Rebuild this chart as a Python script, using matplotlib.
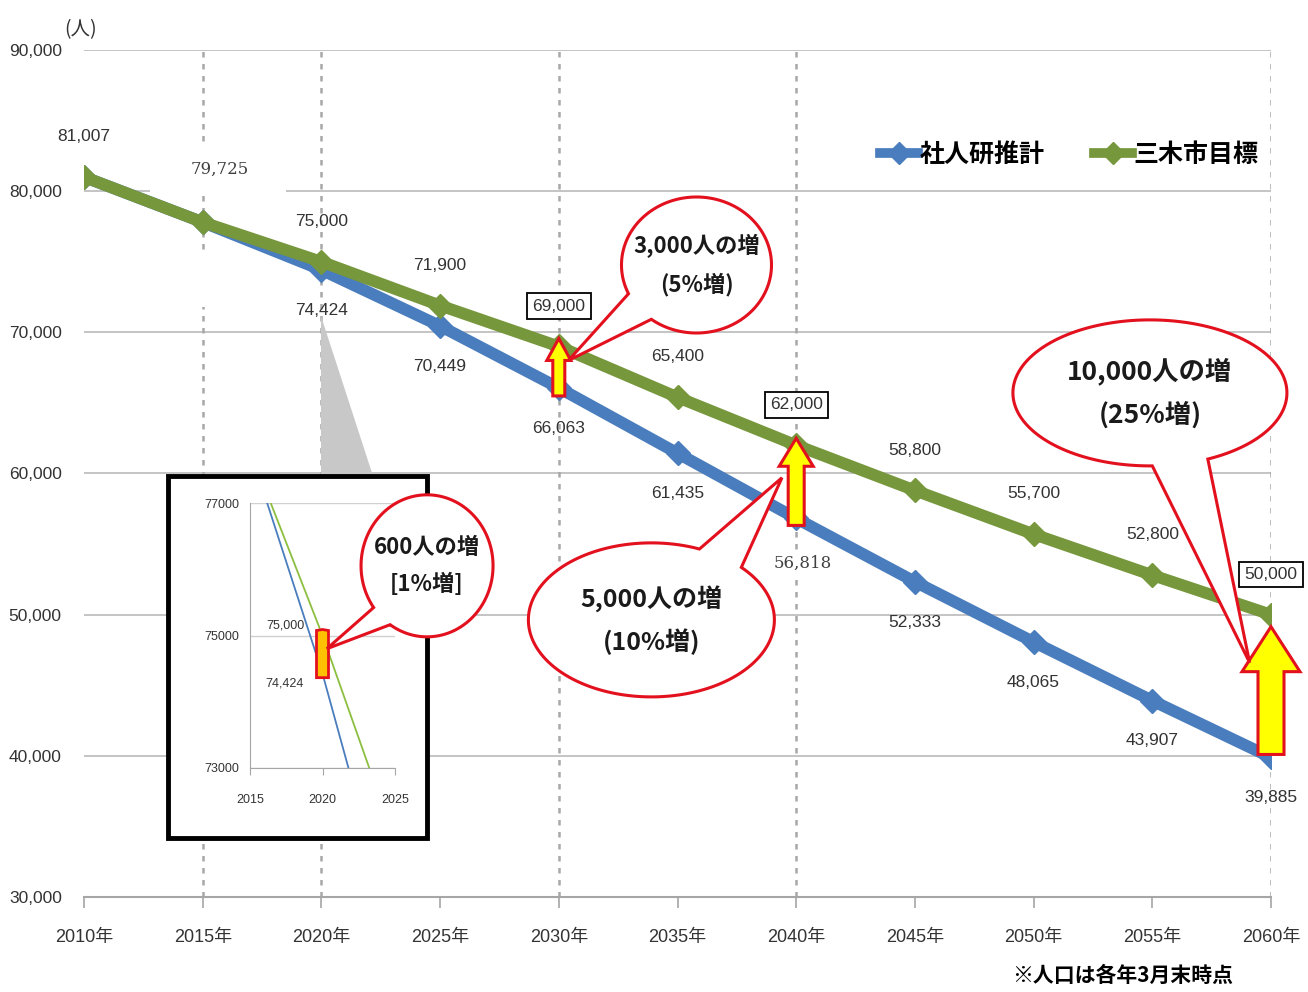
import matplotlib
matplotlib.use('Agg')
import matplotlib.pyplot as plt
from matplotlib import font_manager
from matplotlib.lines import Line2D
from matplotlib.patches import Polygon, Rectangle
from matplotlib.transforms import IdentityTransform
import numpy as np

# data
years = [2010, 2015, 2020, 2025, 2030, 2035, 2040, 2045, 2050, 2055, 2060]
ipss = [81007, 77800, 74424, 70449, 66063, 61435, 56818, 52333, 48065, 43907, 39885]
miki = [81007, 77800, 75000, 71900, 69000, 65400, 62000, 58800, 55700, 52800, 50000]
ipss_labels = ['', '', '74,424', '70,449', '66,063', '61,435', '56,818', '52,333', '48,065', '43,907', '39,885']
miki_labels = ['81,007', '79,725', '75,000', '71,900', '69,000', '65,400', '62,000', '58,800', '55,700', '52,800', '50,000']
boxed_years = [2030, 2040, 2060]
pasted_labels = {2015: 'miki', 2040: 'ipss'}      # labels pasted on later in the source
dashed_years = [2015, 2020, 2030, 2040, 2060]
y_ticks = [30000, 40000, 50000, 60000, 70000, 80000, 90000]
x_tick_labels = [str(y) + '年' for y in years]
series_names = ['社人研推計', '三木市目標']

inset_years = [2015, 2020, 2025]
inset_ticks = [73000, 75000, 77000]

callouts = [
    # text, centre (year, people), rx, ry (px), tail base angles, tail tip, fontsize, target axes
    ('3,000人の増\n(5%増)', (2035.8, 74770), 75, 68, 205, 233, (2030.4, 68000), 16, 'main'),
    ('5,000人の増\n(10%増)', (2033.9, 49630), 123, 77, 43, 67, (2039.4, 59700), 18, 'main'),
    ('10,000人の増\n(25%増)', (2054.9, 65710), 137, 73, 271, 295, (2059.1, 46600), 19, 'main'),
    ('600人の増\n[1%増]', (2024.45, 53460), 66, 71, 216, 236, (2020.3, 74800), 16, 'inset'),
]
# arrows: year, half shaft width, half head width, head length, overshoot bottom / top (px)
arrows = [(2030, 6, 12, 22, 8, 8), (2040, 8, 17, 28, 7, 7), (2060, 13, 29, 45, -3, -12)]

W, H = 1308, 992
BLUE = '#4a7dbd'
GREEN = '#77973c'
RED = '#e3101e'

names = {f.name for f in font_manager.fontManager.ttflist}
num_font = 'Liberation Sans Narrow' if 'Liberation Sans Narrow' in names else 'Liberation Sans'
fam = [num_font, 'Noto Sans CJK JP', 'DejaVu Sans']
cjk = ['Noto Sans CJK JP', 'DejaVu Sans']
plt.rcParams['font.family'] = fam

fig = plt.figure(figsize=(W / 100, H / 100), dpi=100)
ax = fig.add_axes([84 / W, 1 - 897 / H, 1187 / W, 847 / H])
ax.set_xlim(2010, 2060)
ax.set_ylim(30000, 90000)

for s in ['top', 'right', 'left']:
    ax.spines[s].set_visible(False)
ax.spines['bottom'].set_color('#a6a6a6')
ax.spines['bottom'].set_linewidth(1.5)
ax.set_yticks(y_ticks)
ax.set_yticklabels([f'{v:,}' for v in y_ticks])
ax.set_xticks(years)
ax.set_xticklabels(x_tick_labels)
ax.tick_params(axis='y', length=0, pad=16, labelsize=12.5, labelcolor='#333333')
ax.tick_params(axis='x', length=8, width=1.2, color='#a6a6a6', pad=15, labelsize=13, labelcolor='#333333')
ax.yaxis.grid(True, color='#c4c4c4', lw=1.4, zorder=0)
ax.set_axisbelow(True)
for yr in dashed_years:
    ax.axvline(yr, color='#a8a8a8', lw=1.8, ls=(0, (2.2, 2.6)), zorder=1)

# white patches covering the original labels at 2015
ax.add_patch(Rectangle((2012.8, 79730), 5.7, 3540, fc='white', ec='none', zorder=2))
ax.add_patch(Rectangle((2013.8, 71800), 4.7, 3820, fc='white', ec='none', zorder=2))

ax.plot(years, ipss, color=BLUE, lw=8.5, marker='D', ms=12, zorder=3, solid_capstyle='round')
ax.plot(years, miki, color=GREEN, lw=8.5, marker='D', ms=12, zorder=4, solid_capstyle='round')

for yr, v, lab in zip(years, miki, miki_labels):
    if pasted_labels.get(yr) == 'miki':
        ax.annotate(lab, (yr, v), xytext=(12, 38), textcoords='offset points', ha='center', va='center',
                    fontsize=12, family='DejaVu Serif', color='#404040', zorder=6)
        continue
    box = dict(boxstyle='square,pad=0.3', fc='white', ec='black', lw=1.3) if yr in boxed_years else None
    ax.annotate(lab, (yr, v), xytext=(0, 29), textcoords='offset points', ha='center', va='center',
                fontsize=12.5, color='#333333', bbox=box, zorder=6)
for yr, v, lab in zip(years, ipss, ipss_labels):
    if not lab:
        continue
    if pasted_labels.get(yr) == 'ipss':
        ax.annotate(lab, (yr, v), xytext=(5, -32), textcoords='offset points', ha='center', va='center',
                    fontsize=12, family='DejaVu Serif', color='#404040', zorder=6,
                    bbox=dict(boxstyle='square,pad=0.2', fc='white', ec='none'))
        continue
    ax.annotate(lab, (yr, v), xytext=(0, -29), textcoords='offset points', ha='center', va='center',
                fontsize=12.5, color='#333333', zorder=6)

handles = [Line2D([], [], color=BLUE, lw=7, marker='D', ms=11),
           Line2D([], [], color=GREEN, lw=7, marker='D', ms=11)]
ax.legend(handles, series_names, loc='center right', bbox_to_anchor=(1.008, 0.876), ncol=2,
          frameon=False, handlelength=1.5, handletextpad=0.05, columnspacing=2.0,
          prop=dict(family=cjk, size=18, weight='bold'))

fig.text(64 / W, 1 - 30 / H, '(人)', fontsize=14, color='#333333', family=cjk, va='center')
fig.text(1233 / W, 1 - 975 / H, '※人口は各年3月末時点', fontsize=15, weight='bold', family=cjk,
         ha='right', va='center')

# yellow block arrows between the two series
def block_arrow(x0, y0, y1, w, hw, hl, lw, color, zorder):
    b = x0[0]
    yb, yt = y0, y1
    pts = [(b - w, yb), (b + w, yb), (b + w, yt - hl), (b + hw, yt - hl), (b, yt),
           (b - hw, yt - hl), (b - w, yt - hl)]
    fig.add_artist(Polygon(pts, closed=True, fc=color, ec=RED, lw=lw, transform=IdentityTransform(),
                           zorder=zorder, joinstyle='miter'))

for yr, w, hw, hl, over_b, over_t in arrows:
    i = years.index(yr)
    p0 = ax.transData.transform((yr, ipss[i]))
    p1 = ax.transData.transform((yr, miki[i]))
    block_arrow(p0, p0[1] - over_b, p1[1] + over_t, w, hw, hl, 2.2, '#ffff00', 2)

# inset: zoom around 2020
fig.add_artist(Rectangle((168 / W, 1 - 838 / H), 259 / W, 362 / H, fc='white', ec='black', lw=3.5,
                         transform=fig.transFigure, zorder=4))
apex = ax.transData.transform((2020, ipss[2]))
fig.add_artist(Polygon([(apex[0], apex[1] - 46), (apex[0], H - 476), (apex[0] + 52, H - 476)], closed=True,
                       fc='#c8c8c8', ec='none', transform=IdentityTransform(), zorder=3))

axi = fig.add_axes([250 / W, 1 - 768 / H, 145 / W, 265 / H], zorder=5)
axi.patch.set_alpha(0)
axi.set_xlim(2015, 2025)
axi.set_ylim(73000, 77000)
axi.plot(years, ipss, color=BLUE, lw=1.3)
axi.plot(years, miki, color='#8cbf3f', lw=1.3)
for s in ['top', 'right']:
    axi.spines[s].set_visible(False)
for s in ['left', 'bottom']:
    axi.spines[s].set_color('#a6a6a6')
axi.set_xticks(inset_years)
axi.set_yticks(inset_ticks)
axi.set_yticklabels([str(v) for v in inset_ticks])
axi.tick_params(axis='y', length=0, pad=8, labelsize=9, labelcolor='#333333')
axi.tick_params(axis='x', length=5, color='#a6a6a6', pad=14, labelsize=9, labelcolor='#333333')
axi.yaxis.grid(True, color='#d0d0d0', lw=1)
axi.annotate(miki_labels[2], (2020, miki[2]), xytext=(-27, 7), textcoords='offset points', ha='center',
             va='center', fontsize=9, color='#333333')
axi.annotate(ipss_labels[2], (2020, ipss[2]), xytext=(-27, -7), textcoords='offset points', ha='center',
             va='center', fontsize=9, color='#333333')
q0 = axi.transData.transform((2020, ipss[2]))
q1 = axi.transData.transform((2020, miki[2]))
block_arrow(q0, q0[1] - 4, q1[1] + 6, 6, 6, 1, 2.0, '#ffc000', 6)

# speech-bubble callouts
for text, (cx, cy), rx, ry, t1, t2, tip, fs, target in callouts:
    c = ax.transData.transform((cx, cy))
    tp = (axi if target == 'inset' else ax).transData.transform(tip)
    t = np.radians(np.linspace(t2, t1 + 360, 240))
    pts = np.column_stack([c[0] + rx * np.cos(t), c[1] + ry * np.sin(t)])
    pts = np.vstack([pts, tp])
    fig.add_artist(Polygon(pts, closed=True, fc='white', ec=RED, lw=2.2, transform=IdentityTransform(),
                           zorder=10))
    fig.text(c[0] / W, c[1] / H, text, fontsize=fs, weight='bold', family=cjk, ha='center', va='center',
             linespacing=1.75, color='#1a1a1a', zorder=11)

fig.savefig('out.png', dpi=100)
